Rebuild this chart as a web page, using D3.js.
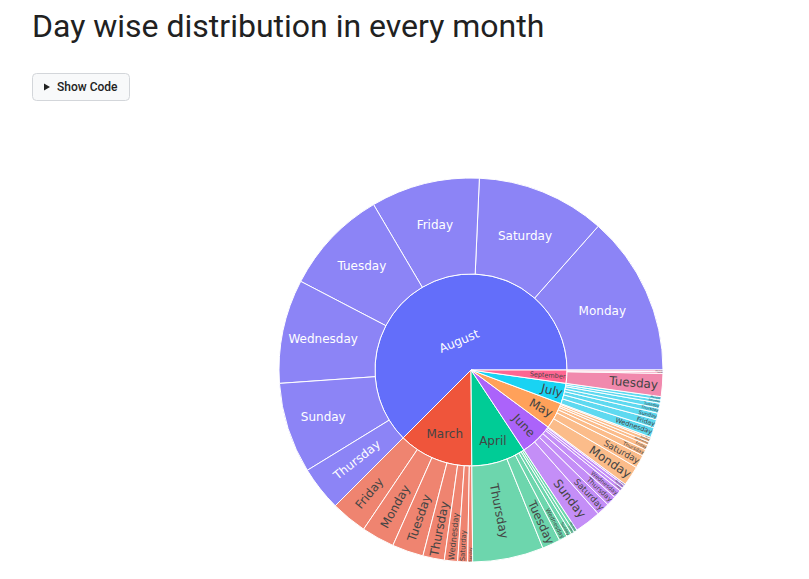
<!DOCTYPE html>
<html>
<head>
<meta charset="utf-8">
<script src="https://cdn.jsdelivr.net/npm/d3@7"></script>
<style>
  body { margin: 0; background: #fff; }
  svg { display: block; }
</style>
</head>
<body>
<svg id="chart" width="809" height="579"></svg>
<script>
// months (top ring) in the order plotly draws them
const months = ["August", "March", "April", "June", "May", "July", "September"];
const monthColors = ["#636efa", "#ef553b", "#00cc96", "#ab63fa", "#ffa15a", "#19d3f3", "#ff6692"];
const leafColors = ["#8c84f6", "#ef8470", "#6dd6ad", "#c48ef7", "#fbbc8a", "#5ed9f0", "#f189ad"];

// day counts per month
const augustDays = ["Monday", "Saturday", "Friday", "Tuesday", "Wednesday", "Sunday", "Thursday"];
const augustCounts = [97, 78, 66, 64, 63, 55, 27];
const marchDays = ["Friday", "Monday", "Tuesday", "Thursday", "Wednesday", "Saturday", "Sunday"];
const marchCounts = [22, 20, 19, 13, 8, 6, 3];
const aprilDays = ["Thursday", "Tuesday", "Wednesday", "Sunday", "Friday", "Monday"];
const aprilCounts = [43, 11, 5, 3, 2, 2];
const juneDays = ["Sunday", "Saturday", "Thursday", "Wednesday", "Friday", "Monday", "Tuesday"];
const juneCounts = [16, 8, 6, 5, 2, 2, 1];
const mayDays = ["Monday", "Saturday", "Thursday", "Friday", "Wednesday", "Sunday", "Tuesday"];
const mayCounts = [12, 8, 4, 3, 2, 2, 1];
const julyDays = ["Wednesday", "Friday", "Sunday", "Thursday", "Tuesday", "Saturday", "Monday"];
const julyCounts = [6, 5, 4, 3, 3, 2, 2];
const septemberDays = ["Tuesday", "Monday", "Wednesday"];
const septemberCounts = [14, 1, 1];

const dayLists = [augustDays, marchDays, aprilDays, juneDays, mayDays, julyDays, septemberDays];
const countLists = [augustCounts, marchCounts, aprilCounts, juneCounts, mayCounts, julyCounts, septemberCounts];

const cx = 471, cy = 370, outerR = 192;
const labelFont = "Verdana, 'DejaVu Sans', sans-serif";
const baseSize = 12;

const svg = d3.select("#chart");

// title + button
svg.append("text")
    .attr("x", 32)
    .attr("y", 37)
    .attr("font-family", "Roboto, sans-serif")
    .attr("font-size", 32)
    .attr("fill", "#212121")
    .text("Day wise distribution in every month");

const btn = svg.append("g").attr("class", "show-code");
btn.append("rect")
    .attr("x", 32.5).attr("y", 73.5)
    .attr("width", 97).attr("height", 27)
    .attr("rx", 4)
    .attr("fill", "#f8f9fa")
    .attr("stroke", "#d3d6da");
btn.append("path")
    .attr("d", "M44,83.5 L50,87 L44,90.5 Z")
    .attr("fill", "#222");
btn.append("text")
    .attr("x", 57).attr("y", 91)
    .attr("font-family", "Roboto, sans-serif")
    .attr("font-size", 12)
    .attr("font-weight", 500)
    .attr("fill", "#222")
    .text("Show Code");

// hierarchy
const rootData = {
    name: "root",
    children: months.map((m, i) => ({
        name: m,
        children: dayLists[i].map((d, j) => ({ name: d, value: countLists[i][j] }))
    }))
};

const root = d3.hierarchy(rootData)
    .sum(d => d.value || 0)
    .sort((a, b) => b.value - a.value);

// x = angle counterclockwise from 3 o'clock, y = depth
d3.partition().size([2 * Math.PI, 3])(root);

const radius = d3.scaleLinear().domain([1, 3]).range([0, outerR]);

const arc = d3.arc()
    .startAngle(d => Math.PI / 2 - d.x1)
    .endAngle(d => Math.PI / 2 - d.x0)
    .innerRadius(d => radius(d.y0))
    .outerRadius(d => radius(d.y1));

const monthIndex = d => months.indexOf(d.depth === 1 ? d.data.name : d.parent.data.name);
const fillOf = d => d.depth === 1 ? monthColors[monthIndex(d)] : leafColors[monthIndex(d)];
const textColorOf = d => {
    const c = d3.rgb(monthColors[monthIndex(d)]);
    const bright = (c.r * 299 + c.g * 587 + c.b * 114) / 1000;
    return bright > 128 ? "#444" : "#fff";
};

const g = svg.append("g")
    .attr("transform", `translate(${cx},${cy})`);

const nodes = root.descendants().filter(d => d.depth > 0);

g.selectAll("path.slice")
    .data(nodes)
    .join("path")
    .attr("class", "slice")
    .attr("d", arc)
    .attr("fill", fillOf)
    .attr("stroke", "#fff")
    .attr("stroke-width", 1);

// inside-text fitting, same rules plotly's sunburst uses
const ctx = document.createElement("canvas").getContext("2d");
ctx.font = baseSize + "px " + labelFont;
const TEXTPAD = 3;

const angleDelta = (a, b) => {
    const d = ((b - a) % (2 * Math.PI) + 2 * Math.PI) % (2 * Math.PI);
    return d > Math.PI ? d - 2 * Math.PI : d;
};
const calcMaxHalfSize = (a, halfAngle, r, ring) => {
    const q = a + 1 / (2 * Math.tan(halfAngle));
    return r * Math.min(
        1 / (Math.sqrt(q * q + 0.5) + q),
        ring / (Math.sqrt(a * a + ring / 2) + a)
    );
};
const calcRCenter = (a, b) => Math.cos(b) - a * b;
const calcRotate = t => (180 / Math.PI * t + 720) % 180 - 90;

function placeLabel(d) {
    const rpx0 = radius(d.y0), rpx1 = radius(d.y1);
    const mid = (d.x0 + d.x1) / 2;          // ccw from 3 o'clock
    const midCw = Math.PI / 2 - mid;        // cw from 12 o'clock
    const halfAngle = 0.5 * Math.min(angleDelta(d.x0, d.x1) || Math.PI, Math.PI);
    const ring = 1 - rpx0 / rpx1;
    const rIns = Math.max(0, Math.min(1 / (1 + 1 / Math.sin(halfAngle)), ring / 2));
    const w = ctx.measureText(d.data.name).width, h = 14;

    const all = [];
    const horiz = { scale: rIns * rpx1 * 2 / Math.hypot(w + 2 * TEXTPAD, h), rCenter: 1 - rIns, rotate: 0 };
    if (horiz.scale >= 1) return finish(horiz);
    all.push(horiz);

    const r = Math.max(0, rpx1 - 2 * TEXTPAD);
    let a = w / h;
    let s = calcMaxHalfSize(a, halfAngle, r, ring);
    all.push({ scale: s * 2 / h, rCenter: calcRCenter(a, s / r), rotate: calcRotate(midCw) });

    a = h / w;
    s = calcMaxHalfSize(a, halfAngle, r, ring);
    all.push({ scale: s * 2 / w, rCenter: calcRCenter(a, s / r), rotate: calcRotate(midCw + Math.PI / 2) });

    let best = all[0];
    all.forEach(t => { if (t.scale > best.scale) best = t; });
    return finish(best);

    function finish(t) {
        const rr = t.rCenter * rpx1;
        return {
            x: rr * Math.cos(mid),
            y: -rr * Math.sin(mid),
            rotate: t.rotate,
            size: baseSize * Math.min(1, t.scale)
        };
    }
}

nodes.forEach(d => d.label = placeLabel(d));

g.selectAll("text.slice-label")
    .data(nodes)
    .join("text")
    .attr("class", "slice-label")
    .attr("transform", d => `translate(${d.label.x},${d.label.y}) rotate(${d.label.rotate})`)
    .attr("text-anchor", "middle")
    .attr("dominant-baseline", "central")
    .attr("font-family", labelFont)
    .attr("font-size", d => d.label.size)
    .attr("fill", textColorOf)
    .text(d => d.data.name);
</script>
</body>
</html>
